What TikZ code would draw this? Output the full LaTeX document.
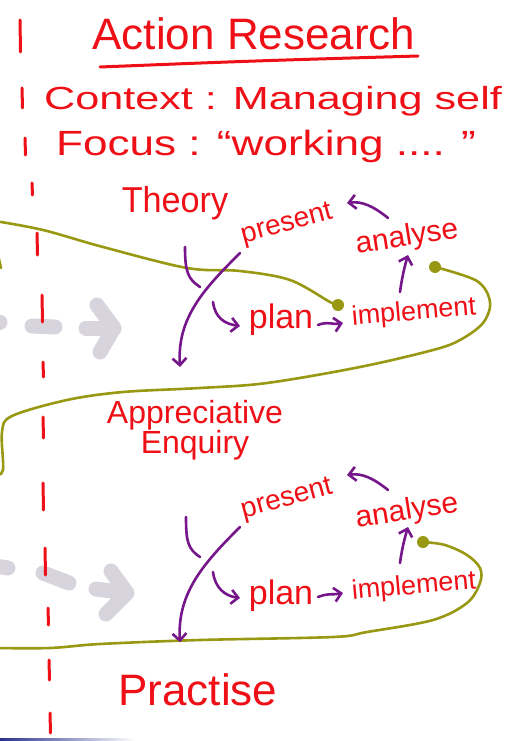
\documentclass[tikz,border=0pt]{standalone}
\usepackage{fontspec}
\setmainfont{Liberation Sans}
\usetikzlibrary{arrows.meta,calc}

\definecolor{inkred}{RGB}{238,16,22}
\definecolor{inkpurple}{RGB}{118,22,138}
\definecolor{inkolive}{RGB}{152,152,18}
\definecolor{ghostgray}{RGB}{215,212,221}
\definecolor{inkblue}{RGB}{40,50,140}

\newcommand{\fs}[1]{\fontsize{#1}{#1}\selectfont}

\tikzset{
  hand/.style={text=inkred, inner sep=0pt},
  loopline/.style={draw=inkolive, line width=2.6pt, line cap=round, line join=round},
  stroke/.style={draw=inkpurple, line width=2.6pt, line cap=round},
  flow/.style={stroke, -{Straight Barb[length=7pt,width=14pt]}},
  ghost/.style={draw=ghostgray, line width=15pt, line cap=round, line join=round},
  margin/.style={draw=inkred, line width=3pt, line cap=round},
}

\begin{document}
\begin{tikzpicture}[x=1pt, y=-1pt]
  \useasboundingbox[fill=white] (0,0) rectangle (515,741);

  % grey arrows in the background
  \draw[ghost] (-10,322) -- (0,322);
  \draw[ghost] (32,326) -- (55,327);
  \draw[ghost] (86,328) -- (114,328);
  \draw[ghost] (97,305) -- (114,328) -- (100,352);
  \draw[ghost] (-5,566) -- (8,568);
  \draw[ghost] (43,573) -- (69,583);
  \draw[ghost] (96,589) -- (126,593);
  \draw[ghost] (111,571) -- (127,593) -- (106,614);

  % dashed margin
  \foreach \x/\ya/\yb in
    {
        20/20/52, 22/88/108, 25/138/155, 32/183/195, 37/233/255,
        42/295/322, 43/362/377, 43/417/438, 43/483/510, 45/548/575,
        48/608/625, 49/660/680, 50/713/733
    }
    {
        \draw[margin] (\x,\ya) -- (\x+0.5,\yb);
    }

  % heading
  \node[hand, anchor=base, font=\fs{44}] (title) at (254,50) {Action Research};
  \draw[inkred, line width=3pt, line cap=round]
  (100,67) .. controls (250,61) .. (418,56);
  \node[hand, anchor=base, xscale=1.35, font=\fs{32}] (context) at (273,110) {Context : Managing self};
  \node[hand, anchor=base, xscale=1.26, font=\fs{35}] (focus) at (266,155) {Focus : ``working .... ''};

  % theory loop
  \node[hand, anchor=base, xscale=0.95, font=\fs{36}] (theory) at (175,212) {Theory};
  \draw[loopline] plot[smooth, tension=0.55] coordinates
  {(-5,221) (43,230) (103,247) (187,268) (240,271) (290,280) (330,302) (338,305)};
  \fill[inkolive] (338,305) circle (6);
  \draw[loopline] plot[smooth, tension=0.55] coordinates
  {(435,267) (477,281) (490,302) (483,323) (460,340) (433,350) (360,367) (267,383)
   (200,388) (123,392) (67,400) (12,416) (2,432) (3,470) (-5,475)};
  \fill[inkolive] (435,267) circle (6);
  \draw[loopline] (-2,255) -- (1,268);

  \node[hand, rotate=15, font=\fs{28}] (present1) at (287,225) {present};
  \node[hand, rotate=9, font=\fs{30}] (analyse1) at (407,238) {analyse};
  \node[hand, font=\fs{34}] (plan1) at (281,320) {plan};
  \node[hand, rotate=5, font=\fs{27}] (impl1) at (414,313) {implement};
  \node[hand, align=center, font={\fontsize{32}{30}\selectfont}] (enquiry) at (195,430) {Appreciative\\Enquiry};

  \draw[flow] ($(present1)+(-47,28)$) .. controls +(-35,35) and +(-3,-50) .. ($(enquiry)+(-15,-63)$);
  \draw[stroke] ($(present1)+(-102,22)$) .. controls +(0,25) and +(-12,-8) .. ($(present1)+(-87,62)$);
  \draw[flow] ($(plan1)+(-68,-18)$) .. controls +(2,16) and +(-15,-2) .. ($(plan1)+(-41,6)$);
  \draw[flow] ($(plan1)+(37,5)$) .. controls +(10,-4) and +(-10,2) .. ($(impl1)+(-71,10)$);
  \draw[flow] ($(impl1)+(-14,-21)$) .. controls +(2,-15) and +(-3,10) .. ($(analyse1)+(1,17)$);
  \draw[flow] ($(analyse1)+(-19,-20)$) .. controls +(-15,-12) and +(15,-2) .. ($(present1)+(60,-22)$);

  % practise loop
  \draw[loopline] plot[smooth, tension=0.55] coordinates
  {(423,542) (445,545) (467,555) (480,568) (480,583) (467,603) (433,620) (367,632)
   (333,637) (200,640) (100,644) (50,648) (-5,648)};
  \fill[inkolive] (423,542) circle (6);

  \node[hand, rotate=15, font=\fs{28}] (present2) at (287,500) {present};
  \node[hand, rotate=9, font=\fs{30}] (analyse2) at (407,512) {analyse};
  \node[hand, font=\fs{34}] (plan2) at (281,596) {plan};
  \node[hand, rotate=5, font=\fs{27}] (impl2) at (414,587) {implement};
  \node[hand, anchor=base, font=\fs{44}] (practise) at (198,705) {Practise};

  \draw[flow] ($(present2)+(-47,27)$) .. controls +(-35,35) and +(-3,-50) .. ($(practise)+(-18,-47)$);
  \draw[stroke] ($(present2)+(-101,17)$) .. controls +(0,25) and +(-12,-8) .. ($(present2)+(-87,57)$);
  \draw[flow] ($(plan2)+(-68,-24)$) .. controls +(2,16) and +(-15,-2) .. ($(plan2)+(-41,2)$);
  \draw[flow] ($(plan2)+(37,1)$) .. controls +(10,-4) and +(-10,2) .. ($(impl2)+(-71,6)$);
  \draw[flow] ($(impl2)+(-14,-24)$) .. controls +(2,-15) and +(-3,10) .. ($(analyse2)+(1,15)$);
  \draw[flow] ($(analyse2)+(-19,-22)$) .. controls +(-15,-12) and +(15,-2) .. ($(present2)+(60,-25)$);

  % page edge
  \shade[left color=inkblue, right color=white] (0,738) rectangle (135,741);
\end{tikzpicture}
\end{document}
